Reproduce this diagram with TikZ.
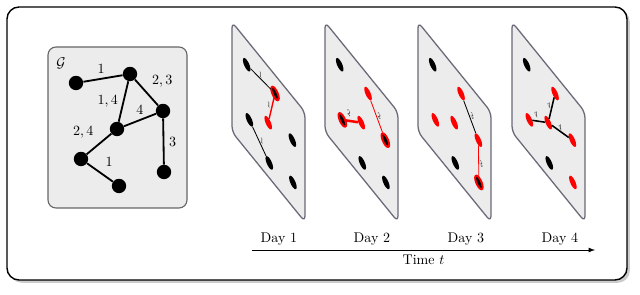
\documentclass[tikz,border=0pt]{standalone}
\usepackage{tikz}
\usetikzlibrary{shadows}

\definecolor{boardline}{RGB}{105,105,120}

\begin{document}
\begin{tikzpicture}[x=0.025cm, y=0.025cm,
  vertex/.style={circle, fill=black, inner sep=0pt, minimum size=0.36cm},
  hot/.style={vertex, fill=red},
  seed/.style={vertex, draw=red, line width=1.4pt},
  link/.style={line width=1.3pt},
  thinlink/.style={line width=0.6pt},
  wt/.style={font=\footnotesize, inner sep=1pt},
  board/.style={draw=boardline, fill=gray!15, line width=0.9pt, rounded corners=0.15cm},
  panel/.style={shift={(#1,163)}, cm={0.525,-0.647,0,0.683,(0,0)}, transform shape}]
  \useasboundingbox (0,0) rectangle (640,295);

  % outer frame
  \draw[line width=1pt, fill=white, rounded corners=0.3cm,
    drop shadow={shadow xshift=0.07cm, shadow yshift=-0.07cm, opacity=0.4}]
    (7,15) rectangle (627,288);

  % the graph G
  \draw[draw=gray!80!black, line width=0.8pt, fill=gray!15, rounded corners=0.2cm] (48,87) rectangle (187,248);
  \begin{scope}[shift={(48,87)}]
    \node at (13,145) {$\mathcal{G}$};
    \node[vertex] (A) at (28,125) {};
    \node[vertex] (B) at (82,134) {};
    \node[vertex] (C) at (115,97) {};
    \node[vertex] (D) at (69,79) {};
    \node[vertex] (E) at (33,49) {};
    \node[vertex] (F) at (71,22) {};
    \node[vertex] (G) at (116,36) {};
    \draw[link] (A) -- node[above, pos=0.45] {$1$} (B);
    \draw[link] (B) -- node[above right] {$2,3$} (C);
    \draw[link] (B) -- node[left] {$1,4$} (D);
    \draw[link] (D) -- node[above] {$4$} (C);
    \draw[link] (D) -- node[above left] {$2,4$} (E);
    \draw[link] (E) -- node[above right] {$1$} (F);
    \draw[link] (C) -- node[right] {$3$} (G);
  \end{scope}

  % day 1
  \begin{scope}[panel=232]
    \draw[board] (0,0) rectangle (139,161);
    \node[vertex] (A1) at (28,125) {};
    \node[seed] (B1) at (82,134) {};
    \node[vertex] (C1) at (115,97) {};
    \node[hot] (D1) at (69,79) {};
    \node[vertex] (E1) at (33,49) {};
    \node[vertex] (F1) at (71,22) {};
    \node[vertex] (G1) at (116,36) {};
    \draw[thinlink] (A1) -- node[wt, above] {$1$} (B1);
    \draw[red, line width=1pt] (B1) -- node[wt, left, black] {$1$} (D1);
    \draw[thinlink] (E1) -- node[wt, above right] {$1$} (F1);
  \end{scope}

  % day 2
  \begin{scope}[panel=325]
    \draw[board] (0,0) rectangle (139,161);
    \node[vertex] (A2) at (28,125) {};
    \node[hot] (B2) at (82,134) {};
    \node[seed] (C2) at (115,97) {};
    \node[hot] (D2) at (69,79) {};
    \node[seed] (E2) at (33,49) {};
    \node[vertex] (F2) at (71,22) {};
    \node[vertex] (G2) at (116,36) {};
    \draw[red, thinlink] (B2) -- node[wt, above right, black] {$2$} (C2);
    \draw[red, line width=1.8pt] (D2) -- node[wt, above left, black] {$2$} (E2);
  \end{scope}

  % day 3
  \begin{scope}[panel=418]
    \draw[board] (0,0) rectangle (139,161);
    \node[vertex] (A3) at (28,125) {};
    \node[hot] (B3) at (82,134) {};
    \node[hot] (C3) at (115,97) {};
    \node[hot] (D3) at (69,79) {};
    \node[hot] (E3) at (33,49) {};
    \node[vertex] (F3) at (71,22) {};
    \node[seed] (G3) at (116,36) {};
    \draw[thinlink] (B3) -- node[wt, above right] {$3$} (C3);
    \draw[red, thinlink] (C3) -- node[wt, right, black] {$3$} (G3);
  \end{scope}

  % day 4
  \begin{scope}[panel=512]
    \draw[board] (0,0) rectangle (139,161);
    \node[vertex] (A4) at (28,125) {};
    \node[hot] (B4) at (82,134) {};
    \node[hot] (C4) at (115,97) {};
    \node[hot] (D4) at (69,79) {};
    \node[hot] (E4) at (33,49) {};
    \node[vertex] (F4) at (71,22) {};
    \node[hot] (G4) at (116,36) {};
    \draw[line width=1.1pt] (B4) -- node[wt, left] {$4$} (D4);
    \draw[line width=1.1pt] (D4) -- node[wt, above] {$4$} (C4);
    \draw[line width=1.1pt] (D4) -- node[wt, above left] {$4$} (E4);
  \end{scope}

  % time axis
  \foreach \d/\x in {1/279, 2/372, 3/466, 4/560}
    \node (day\d) at (\x,56) {Day \d};
  \coordinate (t0) at (252,45);
  \coordinate (t1) at (595,45);
  \draw[-latex, line width=0.6pt] (t0) -- node[below] {Time $t$} (t1);
\end{tikzpicture}
\end{document}
